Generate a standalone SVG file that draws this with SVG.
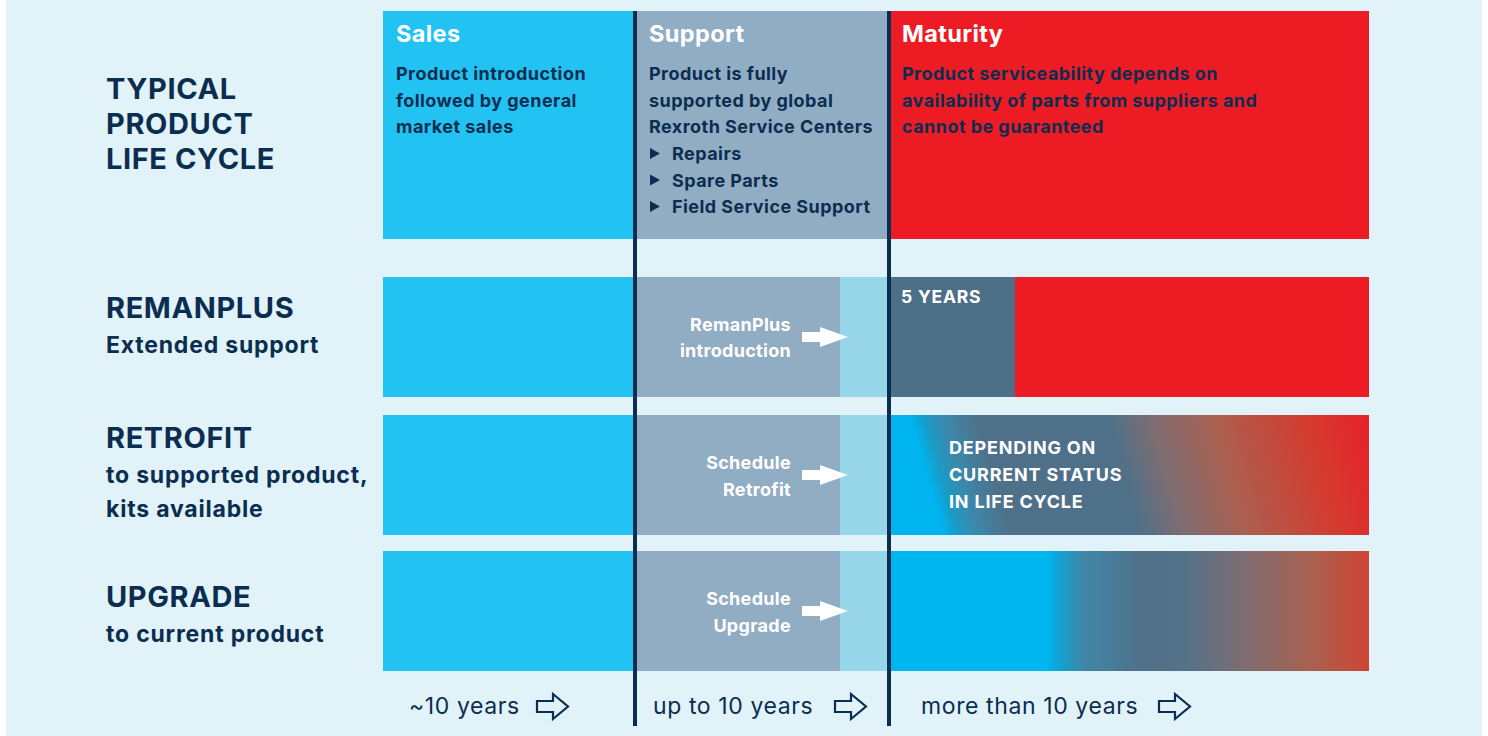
<svg xmlns="http://www.w3.org/2000/svg" width="1488" height="736" viewBox="0 0 1488 736">
<defs>
<style>
.t{font-family:Inter,"Liberation Sans",sans-serif;font-weight:700;fill:#0b2d50}
.big{font-size:29px;letter-spacing:0.6px}
.sub{font-size:23px;letter-spacing:0.8px}
.hd{font-size:23.5px;letter-spacing:0.4px;fill:#fff}
.bd{font-size:18px;letter-spacing:0.45px}
.wt{font-family:Inter,"Liberation Sans",sans-serif;font-weight:700;font-size:18px;letter-spacing:0.3px;fill:#fff}
.caps{letter-spacing:0.8px}
.ft{font-family:Inter,"Liberation Sans",sans-serif;font-weight:400;font-size:23px;letter-spacing:0.6px;fill:#0b2d50}
.div{stroke:#0a2d52;stroke-width:4}
.warr{fill:#fff}
.oarr{fill:none;stroke:#0a2d52;stroke-width:2.2;stroke-linejoin:miter}
</style>
<linearGradient id="g3" gradientUnits="userSpaceOnUse" x1="891" y1="475" x2="1369" y2="340">
<stop offset="0" stop-color="#00b4ef"/>
<stop offset="0.07" stop-color="#00b4ef"/>
<stop offset="0.095" stop-color="#169dc9"/>
<stop offset="0.13" stop-color="#3a8aae"/>
<stop offset="0.2" stop-color="#4e7189"/>
<stop offset="0.45" stop-color="#4e7189"/>
<stop offset="0.53" stop-color="#7b6d73"/>
<stop offset="0.66" stop-color="#ab5f4f"/>
<stop offset="0.83" stop-color="#d33c31"/>
<stop offset="0.96" stop-color="#e8202a"/>
</linearGradient>
<linearGradient id="g4" gradientUnits="userSpaceOnUse" x1="891" y1="0" x2="1369" y2="0">
<stop offset="0" stop-color="#00b6ef"/>
<stop offset="0.325" stop-color="#00b6ef"/>
<stop offset="0.36" stop-color="#179ecb"/>
<stop offset="0.4" stop-color="#3f88a9"/>
<stop offset="0.52" stop-color="#4e7189"/>
<stop offset="0.62" stop-color="#557189"/>
<stop offset="0.72" stop-color="#776e75"/>
<stop offset="0.88" stop-color="#a8614f"/>
<stop offset="1" stop-color="#d04433"/>
</linearGradient>
</defs>
<rect x="6" y="0" width="1476" height="736" fill="#e1f3f8"/>

<g id="label-typical">
<text class="t big" x="106" y="99">TYPICAL</text>
<text class="t big" x="106" y="134">PRODUCT</text>
<text class="t big" x="106" y="169">LIFE CYCLE</text>
</g>
<g id="label-remanplus">
<text class="t big" x="106" y="318">REMANPLUS</text>
<text class="t sub" x="106" y="353">Extended support</text>
</g>
<g id="label-retrofit">
<text class="t big" x="106" y="448">RETROFIT</text>
<text class="t sub" x="106" y="483">to supported product,</text>
<text class="t sub" x="106" y="517">kits available</text>
</g>
<g id="label-upgrade">
<text class="t big" x="106" y="607">UPGRADE</text>
<text class="t sub" x="106" y="642">to current product</text>
</g>

<g id="sales">
<rect x="383" y="11" width="252" height="228" fill="#22c3f2"/>
<text class="t hd" x="396" y="42">Sales</text>
<text class="t bd" x="396" y="80">Product introduction</text>
<text class="t bd" x="396" y="106.5">followed by general</text>
<text class="t bd" x="396" y="133">market sales</text>
</g>
<g id="support">
<rect x="635" y="11" width="254" height="228" fill="#91adc4"/>
<text class="t hd" x="649" y="42">Support</text>
<text class="t bd" x="649" y="80">Product is fully</text>
<text class="t bd" x="649" y="106.5">supported by global</text>
<text class="t bd" x="649" y="133">Rexroth Service Centers</text>
<path d="M650,148 L660,153.5 L650,159 Z" fill="#0b2d50"/>
<path d="M650,174.5 L660,180 L650,185.5 Z" fill="#0b2d50"/>
<path d="M650,201 L660,206.5 L650,212 Z" fill="#0b2d50"/>
<text class="t bd" x="672" y="160">Repairs</text>
<text class="t bd" x="672" y="186.5">Spare Parts</text>
<text class="t bd" x="672" y="213">Field Service Support</text>
</g>
<g id="maturity">
<rect x="889" y="11" width="480" height="228" fill="#ed1c24"/>
<text class="t hd" x="902" y="42">Maturity</text>
<text class="t bd" x="902" y="80">Product serviceability depends on</text>
<text class="t bd" x="902" y="106.5">availability of parts from suppliers and</text>
<text class="t bd" x="902" y="133">cannot be guaranteed</text>
</g>

<g id="row-remanplus">
<rect x="383" y="277" width="252" height="120" fill="#22c3f2"/>
<rect x="635" y="277" width="205" height="120" fill="#91adc4"/>
<rect x="840" y="277" width="49" height="120" fill="#97d5e9"/>
<rect x="889" y="277" width="126" height="120" fill="#4d7089"/>
<rect x="1015" y="277" width="354" height="120" fill="#ed1c24"/>
<text class="wt" x="791" y="331" text-anchor="end">RemanPlus</text>
<text class="wt" x="791" y="357" text-anchor="end">introduction</text>
<text class="wt caps" x="901" y="303" style="font-size:17.5px">5 YEARS</text>
</g>
<g id="row-retrofit">
<rect x="383" y="415" width="252" height="120" fill="#22c3f2"/>
<rect x="635" y="415" width="205" height="120" fill="#91adc4"/>
<rect x="840" y="415" width="49" height="120" fill="#97d5e9"/>
<rect x="889" y="415" width="480" height="120" fill="url(#g3)"/>
<text class="wt" x="791" y="469" text-anchor="end">Schedule</text>
<text class="wt" x="791" y="496" text-anchor="end">Retrofit</text>
<text class="wt caps" x="949" y="454">DEPENDING ON</text>
<text class="wt caps" x="949" y="481">CURRENT STATUS</text>
<text class="wt caps" x="949" y="508">IN LIFE CYCLE</text>
</g>
<g id="row-upgrade">
<rect x="383" y="551" width="252" height="120" fill="#22c3f2"/>
<rect x="635" y="551" width="205" height="120" fill="#91adc4"/>
<rect x="840" y="551" width="49" height="120" fill="#97d5e9"/>
<rect x="889" y="551" width="480" height="120" fill="url(#g4)"/>
<text class="wt" x="791" y="605" text-anchor="end">Schedule</text>
<text class="wt" x="791" y="632" text-anchor="end">Upgrade</text>
</g>

<g id="timeline">
<text class="ft" x="409" y="714">~10 years</text>
<text class="ft" x="653" y="714">up to 10 years</text>
<text class="ft" x="921" y="714">more than 10 years</text>
</g>

<g id="connectors">
<line class="div" x1="635" y1="11" x2="635" y2="726"/>
<line class="div" x1="889" y1="11" x2="889" y2="726"/>
<path class="warr" d="M802,332 H820 V327 L848,337 L820,347 V342 H802 Z"/>
<path class="warr" d="M802,470 H820 V465 L848,475 L820,485 V480 H802 Z"/>
<path class="warr" d="M802,606 H820 V601 L848,611 L820,621 V616 H802 Z"/>
<path class="oarr" d="M537,701 H553 V694 L568,706.5 L553,719 V712 H537 Z"/>
<path class="oarr" d="M835,701 H851 V694 L866,706.5 L851,719 V712 H835 Z"/>
<path class="oarr" d="M1159,701 H1175 V694 L1190,706.5 L1175,719 V712 H1159 Z"/>
</g>
</svg>
